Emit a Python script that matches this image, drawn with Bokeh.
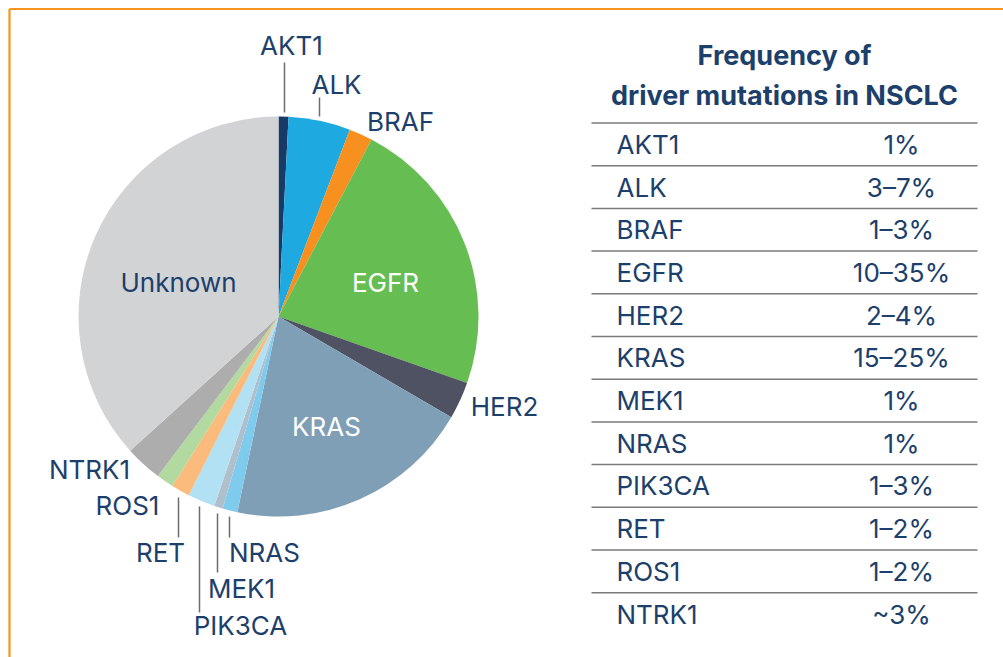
import numpy as np
from bokeh.plotting import figure
from bokeh.models import Range1d, ColumnDataSource
from bokeh.embed import file_html
from bokeh.resources import INLINE
from bokeh.core.properties import value

# ---------------- data ----------------
slice_names = ["AKT1", "ALK", "BRAF", "EGFR", "HER2", "KRAS", "NRAS", "MEK1",
               "PIK3CA", "RET", "ROS1", "NTRK1", "Unknown"]
slice_values = [0.8, 5.0, 1.9, 22.7, 3.0, 19.9, 1.2, 0.7, 2.2, 1.5, 1.4, 3.0, 36.7]
slice_colors = ["#173a66", "#1ea9e1", "#f7901e", "#66bd52", "#4f5262", "#7f9fb6",
                "#7ecbee", "#b0bfcc", "#b3e1f4", "#fbbb7c", "#b2d9a0", "#adadad",
                "#d2d3d5"]

table_genes = ["AKT1", "ALK", "BRAF", "EGFR", "HER2", "KRAS", "MEK1", "NRAS",
               "PIK3CA", "RET", "ROS1", "NTRK1"]
table_freqs = ["1%", "3\u20137%", "1\u20133%", "10\u201335%", "2\u20134%", "15\u201325%",
               "1%", "1%", "1\u20133%", "1\u20132%", "1\u20132%", "~3%"]
title_lines = ["Frequency of", "driver mutations in NSCLC"]

# ---------------- layout (page pixels) ----------------
W, H = 1003, 657
def dy(page_y):
    return H - page_y

NAVY = "#1d3f6b"
FONT = value("Inter")
FS = "26px"

p = figure(width=W, height=H, x_range=Range1d(0, W), y_range=Range1d(0, H),
           output_backend="svg", toolbar_location=None, min_border=0)
p.axis.visible = False
p.grid.visible = False
p.outline_line_color = None
p.background_fill_color = "white"
p.border_fill_color = "white"

# orange frame (top and left)
p.segment(x0=[9, 9], y0=[dy(8.5), dy(8.5)], x1=[W, 9], y1=[dy(8.5), 0],
          line_color="#f7941d", line_width=2.2)

# ---------------- pie ----------------
cx, cy, R = 278, dy(316), 200
vals = np.array(slice_values, dtype=float)
cum = np.concatenate([[0], np.cumsum(vals)]) / vals.sum() * 2 * np.pi
start = np.pi / 2 - cum[:-1]
end = np.pi / 2 - cum[1:]
src = ColumnDataSource(dict(start=start, end=end, color=slice_colors, name=slice_names))
p.wedge(x=cx, y=cy, radius=R, start_angle="start", end_angle="end", direction="clock",
        fill_color="color", line_color=None, source=src)

# outside labels with leader lines
outside = {
    "AKT1": (291, 45), "ALK": (336, 84), "BRAF": (400, 121), "HER2": (504, 406),
    "NTRK1": (89, 469), "ROS1": (127, 505), "RET": (160, 552), "NRAS": (264, 552),
    "MEK1": (241, 588), "PIK3CA": (240, 625),
}
inside = {"EGFR": (385, 282, "white"), "KRAS": (326, 426, "white"),
          "Unknown": (178, 282, NAVY)}
leaders = {"AKT1": (284, 62, 112), "ALK": (319, 97, 116), "RET": (178, 497, 537),
           "PIK3CA": (199, 506, 612), "MEK1": (217, 513, 572), "NRAS": (229, 516, 537)}

ln = [n for n in slice_names if n in leaders]
p.segment(x0=[leaders[n][0] for n in ln], x1=[leaders[n][0] for n in ln],
          y0=[dy(leaders[n][1]) for n in ln], y1=[dy(leaders[n][2]) for n in ln],
          line_color="#6d6e71", line_width=1.5)

on = [n for n in slice_names if n in outside]
p.text(x=[outside[n][0] for n in on], y=[dy(outside[n][1]) for n in on], text=on,
       text_align="center", text_baseline="middle", text_font=FONT,
       text_font_size=FS, text_color=NAVY)
inn = [n for n in slice_names if n in inside]
p.text(x=[inside[n][0] for n in inn], y=[dy(inside[n][1]) for n in inn], text=inn,
       text_align="center", text_baseline="middle", text_font=FONT,
       text_font_size=FS, text_color=[inside[n][2] for n in inn])

# ---------------- table ----------------
p.text(x=[784, 784], y=[dy(55), dy(95)], text=title_lines, text_align="center",
       text_baseline="middle", text_font=FONT, text_font_size="27px",
       text_font_style="bold", text_color=NAVY)

row_h = 42.7
top = 122.5
n = len(table_genes)
line_y = [dy(top + row_h * k) for k in range(n)]
p.segment(x0=[591] * n, x1=[977] * n, y0=line_y, y1=line_y,
          line_color="#7a7a7a", line_width=1.5)
row_y = [dy(top + row_h * (k + 0.5)) for k in range(n)]
p.text(x=[616] * n, y=row_y, text=table_genes, text_align="left", text_baseline="middle",
       text_font=FONT, text_font_size=FS, text_color=NAVY)
p.text(x=[901] * n, y=row_y, text=table_freqs, text_align="center", text_baseline="middle",
       text_font=FONT, text_font_size=FS, text_color=NAVY)

open("out.html", "w").write(file_html(p, INLINE))
